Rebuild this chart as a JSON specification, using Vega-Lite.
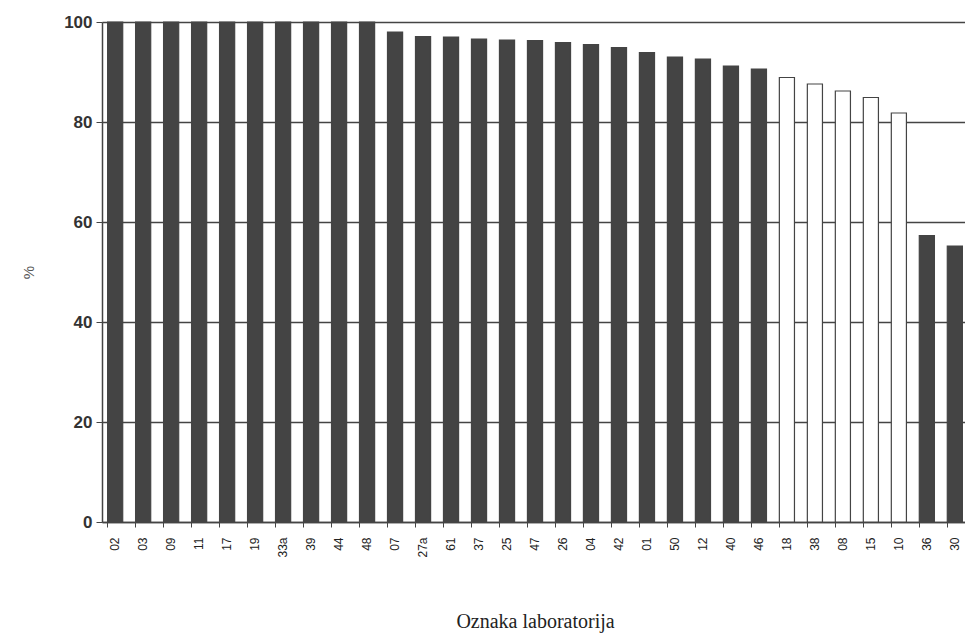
{
  "$schema": "https://vega.github.io/schema/vega-lite/v6.json",
  "autosize": "none",
  "width": 866,
  "height": 500,
  "padding": {"left": 102, "top": 22, "right": 0, "bottom": 114},
  "background": "white",
  "config": {"view": {"stroke": null}},
  "data": {"values": [
    {"lab": "02", "v": 100, "g": "d"},
    {"lab": "03", "v": 100, "g": "d"},
    {"lab": "09", "v": 100, "g": "d"},
    {"lab": "11", "v": 100, "g": "d"},
    {"lab": "17", "v": 100, "g": "d"},
    {"lab": "19", "v": 100, "g": "d"},
    {"lab": "33a", "v": 100, "g": "d"},
    {"lab": "39", "v": 100, "g": "d"},
    {"lab": "44", "v": 100, "g": "d"},
    {"lab": "48", "v": 100, "g": "d"},
    {"lab": "07", "v": 98, "g": "d"},
    {"lab": "27a", "v": 97.1, "g": "d"},
    {"lab": "61", "v": 97.0, "g": "d"},
    {"lab": "37", "v": 96.6, "g": "d"},
    {"lab": "25", "v": 96.4, "g": "d"},
    {"lab": "47", "v": 96.3, "g": "d"},
    {"lab": "26", "v": 95.9, "g": "d"},
    {"lab": "04", "v": 95.5, "g": "d"},
    {"lab": "42", "v": 94.9, "g": "d"},
    {"lab": "01", "v": 93.9, "g": "d"},
    {"lab": "50", "v": 93.0, "g": "d"},
    {"lab": "12", "v": 92.6, "g": "d"},
    {"lab": "40", "v": 91.2, "g": "d"},
    {"lab": "46", "v": 90.6, "g": "d"},
    {"lab": "18", "v": 88.9, "g": "l"},
    {"lab": "38", "v": 87.6, "g": "l"},
    {"lab": "08", "v": 86.2, "g": "l"},
    {"lab": "15", "v": 84.9, "g": "l"},
    {"lab": "10", "v": 81.8, "g": "l"},
    {"lab": "36", "v": 57.3, "g": "d"},
    {"lab": "30", "v": 55.2, "g": "d"}
  ]},
  "mark": {"type": "bar", "strokeWidth": 1.2, "stroke": "#444444"},
  "encoding": {
    "x": {
      "field": "lab", "type": "nominal", "sort": null,
      "scale": {"paddingInner": 0.46, "paddingOuter": 0.2},
      "axis": {
        "title": "Oznaka laboratorija",
        "titleFont": "Liberation Serif", "titleFontSize": 20, "titleFontWeight": "normal", "titleColor": "#222",
        "titlePadding": 54,
        "labelAngle": -90, "labelFont": "Liberation Sans", "labelFontSize": 12, "labelFontWeight": "normal", "labelColor": "#222",
        "labelPadding": 10,
        "domainColor": "#444", "domainWidth": 1.5, "tickColor": "#444", "tickSize": 5, "bandPosition": 0, "grid": false
      }
    },
    "y": {
      "field": "v", "type": "quantitative",
      "scale": {"domain": [0, 100]},
      "axis": {
        "title": "%", "titleFont": "Liberation Sans", "titleFontSize": 15, "titleFontWeight": "normal", "titleColor": "#555",
        "titlePadding": 27,
        "values": [0, 20, 40, 60, 80, 100],
        "labelFont": "Liberation Sans", "labelFontSize": 17, "labelFontWeight": "bold", "labelColor": "#333", "labelPadding": 4,
        "domainColor": "#444", "domainWidth": 1.5, "tickColor": "#444", "tickSize": 6,
        "grid": true, "gridColor": "#444", "gridWidth": 1.6, "gridOpacity": 1
      }
    },
    "fill": {
      "field": "g", "type": "nominal",
      "scale": {"domain": ["d", "l"], "range": ["#444444", "#ffffff"]},
      "legend": null
    }
  }
}
